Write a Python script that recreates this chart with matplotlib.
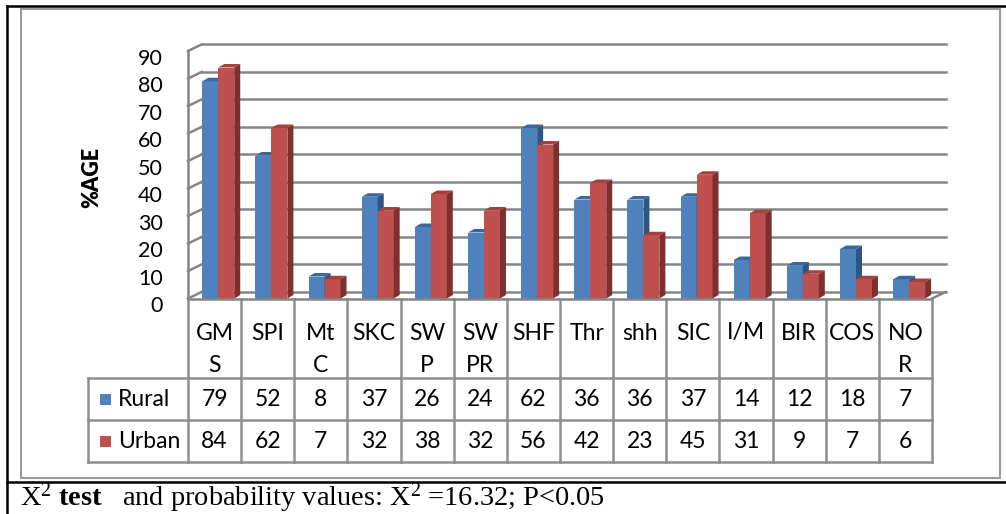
import matplotlib
matplotlib.use("Agg")
import matplotlib.pyplot as plt
from matplotlib.patches import Polygon, Rectangle
from matplotlib.transforms import ScaledTranslation

plt.rcParams['font.family'] = ['Lato', 'DejaVu Sans']
plt.rcParams['mathtext.fontset'] = 'custom'
plt.rcParams['mathtext.rm'] = 'Liberation Serif'
plt.rcParams['mathtext.bf'] = 'Liberation Serif:bold'
plt.rcParams['mathtext.it'] = 'Liberation Serif:italic'

# categories and percentages
categories = ['GM\nS', 'SPI', 'Mt\nC', 'SKC', 'SW\nP', 'SW\nPR', 'SHF',
              'Thr', 'shh', 'SIC', 'I/M', 'BIR', 'COS', 'NO\nR']
rural = [79, 52, 8, 37, 26, 24, 62, 36, 36, 37, 14, 12, 18, 7]
urban = [84, 62, 7, 32, 38, 32, 56, 42, 23, 45, 31, 9, 7, 6]
yticks = list(range(0, 100, 10))

series = [('Rural', rural, '#4F81BD', '#3C679E', '#2E5583'),
          ('Urban', urban, '#C0504D', '#A3413E', '#7E302E')]

W, H = 1006, 514
fig = plt.figure(figsize=(W / 100, H / 100), dpi=100)

# background layer in pixel units (frame lines, caption)
bg = fig.add_axes([0, 0, 1, 1], zorder=0)
bg.set_xlim(0, W)
bg.set_ylim(H, 0)
bg.axis('off')
bg.plot([7, W], [6, 6], color='black', lw=1.8)
bg.plot([7, 7], [6, H], color='black', lw=1.8)
bg.plot([7, W], [482, 482], color='black', lw=1.8)
bg.add_patch(Rectangle((21.5, 8.5), 978.5, 469.5, fill=False,
                       edgecolor='#9a9a9a', lw=1.5))
bg.text(20, 506, r"X$^{2}$ $\mathbf{test}$   and probability values: X$^{2}$ =16.32; P<0.05",
        fontsize=20.4, family='Liberation Serif', va='baseline', ha='left')
bg.text(92, 177, '%AGE', rotation=90, fontsize=15.5, fontweight='heavy',
        ha='center', va='center')

# plot area
left, right, y0, y90 = 188, 932, 298.5, 51
ax = fig.add_axes([left / W, (H - y0) / H, (right - left) / W, (y0 - y90) / H], zorder=2)
ax.set_xlim(-0.5, len(categories) - 0.5)
ax.set_ylim(0, 90)
ax.patch.set_visible(False)
for s in ax.spines.values():
    s.set_visible(False)
ax.set_xticks([])
ax.set_yticks(yticks)
ax.set_yticklabels([str(t) for t in yticks], fontsize=15.5)
ax.tick_params(axis='y', length=0, pad=18)
for lab in ax.get_yticklabels():
    lab.set_transform(lab.get_transform() + ScaledTranslation(0, -4 / 72, fig.dpi_scale_trans))

# depth of the back wall and of the bars
DX, DY = 0.255, 2.37
BX, BY = 0.113, 1.27
grid = '#858585'
n = len(categories)
xl, xr = -0.5, n - 0.5
for v in yticks:
    ax.plot([xl + DX, xr + DX], [v + DY, v + DY], color=grid, lw=1.8, clip_on=False, zorder=1)
    ax.plot([xl, xl + DX], [v, v + DY], color=grid, lw=1.8, clip_on=False, zorder=1)
ax.plot([xl, xl], [0, 90], color=grid, lw=1.8, clip_on=False, zorder=1)
ax.plot([xr, xr + DX], [0, DY], color=grid, lw=1.8, clip_on=False, zorder=1)

width = 0.3
offsets = [-0.08, 0.22]
for i in range(n):
    for (name, vals, front, top, side), off in zip(series, offsets):
        x0 = i + off - width / 2
        x1 = x0 + width
        v = vals[i]
        ax.bar(i + off, v, width=width, color=front, zorder=3, clip_on=False)
        ax.add_patch(Polygon([(x0, v), (x1, v), (x1 + BX, v + BY), (x0 + BX, v + BY)],
                             closed=True, facecolor=top, edgecolor='none', zorder=3, clip_on=False))
        ax.add_patch(Polygon([(x1, 0), (x1 + BX, BY), (x1 + BX, v + BY), (x1, v)],
                             closed=True, facecolor=side, edgecolor='none', zorder=3, clip_on=False))

# data table below the plot
top_px, bot_px, key_px = 299, 462, 88
cw = (right - left) / n
tab = fig.add_axes([key_px / W, (H - bot_px) / H, (right - key_px) / W, (bot_px - top_px) / H], zorder=2)
kx = xl - (left - key_px) / cw
tab.set_xlim(kx, xr)
tab.set_ylim(bot_px - top_px, 0)
tab.axis('off')
line = '#8e8e8e'
r1, r2, r3 = 79, 121, 163
for k in range(n + 1):
    tab.plot([xl + k, xl + k], [0, r3], color=line, lw=1.8, clip_on=False)
tab.plot([xl, xr], [0, 0], color=grid, lw=1.8, clip_on=False)
for r in (r1, r2, r3):
    tab.plot([kx, xr], [r, r], color=line, lw=1.8, clip_on=False)
tab.plot([kx, kx], [r1, r3], color=line, lw=1.8, clip_on=False)

for i, cat in enumerate(categories):
    for j, part in enumerate(cat.split('\n')):
        tab.text(i, 34 + 32 * j, part, fontsize=16.5, ha='center', va='center')

for (name, vals, front, top, side), yc in zip(series, [(r1 + r2) / 2, (r2 + r3) / 2]):
    tab.add_patch(Rectangle((xl - (left - 100) / cw, yc - 5.5), 11 / cw, 11,
                            facecolor=front, edgecolor='none', clip_on=False))
    tab.text(xl - (left - 118) / cw, yc, name, fontsize=16.5, ha='left', va='center')
    for i, v in enumerate(vals):
        tab.text(i, yc, str(v), fontsize=16.5, ha='center', va='center')

fig.savefig('out.png', dpi=100)
